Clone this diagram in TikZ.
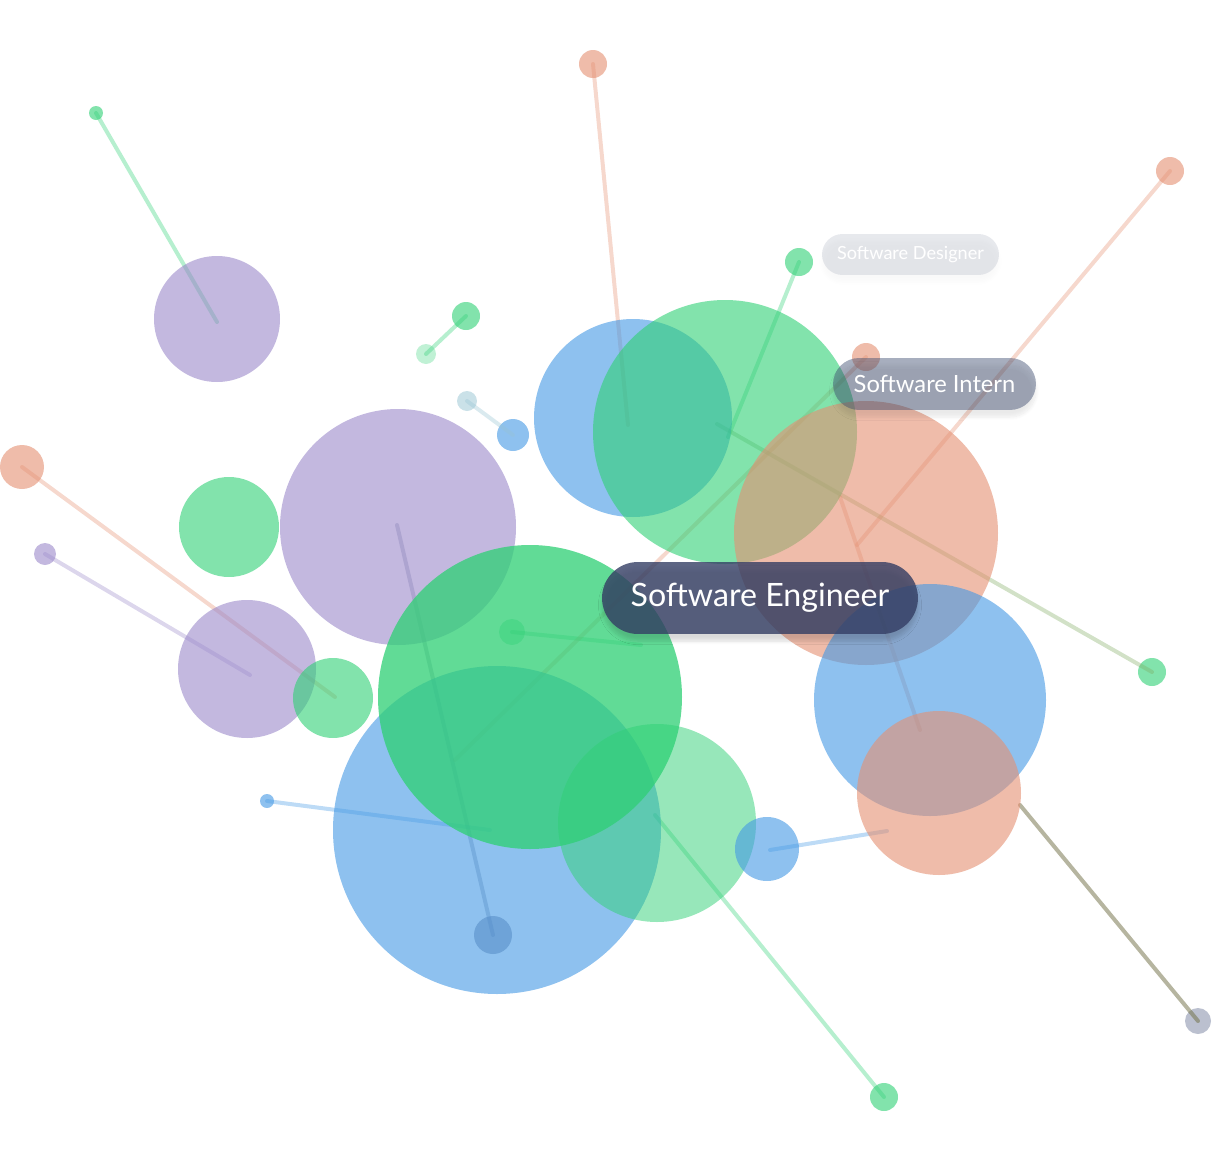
\documentclass[tikz,border=0pt]{standalone}
\usepackage{fontspec}
\setmainfont{Lato}
\usetikzlibrary{positioning,shadows.blur}

\definecolor{cpurple}{RGB}{155,137,202}
\definecolor{cblue}{RGB}{67,152,228}
\definecolor{cgreen}{RGB}{47,208,117}
\definecolor{corange}{RGB}{228,143,113}
\definecolor{cslate}{RGB}{120,130,160}
\definecolor{cpaleblue}{RGB}{150,195,210}
\definecolor{ckhaki}{RGB}{110,108,65}
\definecolor{colive}{RGB}{125,170,95}
\definecolor{cnavy}{RGB}{52,62,100}
\definecolor{cgrey}{RGB}{60,75,110}

\begin{document}
\begin{tikzpicture}[x=0.02cm, y=-0.02cm,
    bub/.style={circle, inner sep=0pt, fill opacity=0.6, minimum size=2*#1*0.02cm},
    dot/.style={circle, inner sep=0pt, fill opacity=0.6, minimum size=2*#1*0.02cm},
    link/.style={line width=0.08cm, draw opacity=0.35, line cap=round},
    pill/.style={rectangle, inner sep=0pt, text=white, text opacity=1, align=center,
        blur shadow={shadow xshift=0pt, shadow yshift=-4pt, shadow blur steps=8, shadow opacity=18}}
]
\useasboundingbox (0,0) rectangle (1232,1170);

% dots
\node[dot=7, fill=cgreen] (d1) at (96,113) {};
\node[dot=14, fill=corange] (d2) at (593,64) {};
\node[dot=14, fill=corange] (d3) at (1170,171) {};
\node[dot=14, fill=cgreen] (d4) at (799,262) {};
\node[dot=14, fill=cgreen] (d5) at (466,316) {};
\node[dot=10, fill=cgreen, fill opacity=0.3] (d5b) at (426,354) {};
\node[dot=10, fill=cpaleblue, fill opacity=0.5] (d6) at (467,401) {};
\node[dot=16, fill=cblue] (d6b) at (513,435) {};
\node[dot=22, fill=corange] (d7) at (22,467) {};
\node[dot=11, fill=cpurple] (d8) at (45,554) {};
\node[dot=19, fill=cslate] (d9) at (493,935) {};
\node[dot=7, fill=cblue] (d10) at (267,801) {};
\node[dot=13, fill=cgreen, fill opacity=0.4] (d11) at (512,632) {};
\node[dot=14, fill=corange] (d12) at (866,357) {};
\node[dot=14, fill=cgreen] (d13) at (1152,672) {};
\node[dot=13, fill=cslate, fill opacity=0.5] (d14) at (1198,1021) {};
\node[dot=14, fill=cgreen] (d17) at (884,1097) {};

% free ends
\coordinate (e1) at (217,322);
\coordinate (e2) at (628,425);
\coordinate (e3) at (857,545);
\coordinate (e4) at (728,437);
\coordinate (e7) at (335,697);
\coordinate (e8) at (250,675);
\coordinate (e9) at (397,525);
\coordinate (e10) at (490,830);
\coordinate (e11) at (641,645);
\coordinate (e12) at (455,760);
\coordinate (e13) at (717,424);
\coordinate (e14) at (1020,805);
\coordinate (e15a) at (840,497);
\coordinate (e15b) at (920,730);
\coordinate (e16a) at (770,850);
\coordinate (e16b) at (887,831);
\coordinate (e17) at (655,815);

% links
\draw[link, cgreen] (d1.center) -- (e1);
\draw[link, corange] (d2.center) -- (e2);
\draw[link, corange] (d3.center) -- (e3);
\draw[link, cgreen] (d4.center) -- (e4);
\draw[link, cgreen] (d5.center) -- (d5b.center);
\draw[link, cpaleblue] (d6.center) -- (d6b.center);
\draw[link, corange] (d7.center) -- (e7);
\draw[link, cpurple] (d8.center) -- (e8);
\draw[link, cslate, draw opacity=0.4] (e9) -- (d9.center);
\draw[link, cblue] (d10.center) -- (e10);
\draw[link, cgreen, draw opacity=0.35] (d11.center) -- (e11);
\draw[link, corange, draw opacity=0.35] (d12.center) -- (e12);
\draw[link, colive] (d13.center) -- (e13);
\draw[link, ckhaki, draw opacity=0.5] (d14.center) -- (e14);
\draw[link, corange] (e15a) -- (e15b);
\draw[link, cblue] (e16a) -- (e16b);
\draw[link, cgreen] (e17) -- (d17.center);

% bubbles
\node[bub=63, fill=cpurple] (P1) at (217,319) {};
\node[bub=118, fill=cpurple] (P2) at (398,527) {};
\node[bub=69, fill=cpurple] (P3) at (247,669) {};
\node[bub=50, fill=cgreen] (G1) at (229,527) {};
\node[bub=40, fill=cgreen] (G2) at (333,698) {};
\node[bub=99, fill=cblue] (B1) at (633,418) {};
\node[bub=132, fill=cgreen] (G3) at (725,432) {};
\node[bub=132, fill=corange] (O1) at (866,533) {};
\node[bub=116, fill=cblue] (B2) at (930,700) {};
\node[bub=82, fill=corange] (O2) at (939,793) {};
\node[bub=164, fill=cblue] (B3) at (497,830) {};
\node[bub=152, fill=cgreen, fill opacity=0.76] (G4) at (530,697) {};
\node[bub=99, fill=cgreen, fill opacity=0.5] (G5) at (657,823) {};
\node[bub=32, fill=cblue] (B4) at (767,849) {};

% labels
\node[pill, fill=cgrey, fill opacity=0.12, minimum width=3.54cm, minimum height=0.82cm,
    rounded corners=0.41cm, font=\fontsize{10.3}{12}\selectfont] (lDes) at (910.5,254.5) {Software Designer};
\node[pill, fill=cgrey, fill opacity=0.45, minimum width=4.06cm, minimum height=1.04cm,
    rounded corners=0.52cm, font=\fontsize{13.5}{15}\selectfont] (lInt) at (934.5,384) {Software Intern};
\node[pill, fill=cnavy, fill opacity=0.8, minimum width=6.32cm, minimum height=1.44cm,
    rounded corners=0.72cm, font=\fontsize{18.3}{20}\selectfont] (lEng) at (760,598) {Software Engineer};
\end{tikzpicture}
\end{document}
